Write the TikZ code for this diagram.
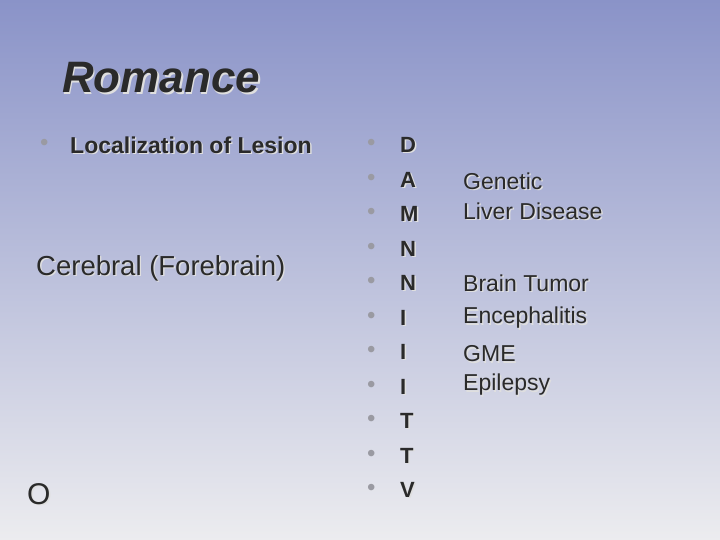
\documentclass[tikz,border=0pt]{standalone}
\usepackage{fontspec}
\setmainfont{Liberation Sans}
\definecolor{slidetop}{HTML}{8A93C8}
\definecolor{slidebot}{HTML}{ECECEF}
\definecolor{inktext}{HTML}{2A2A2A}
\definecolor{dotgrey}{HTML}{9A9AA2}
\newcommand{\shtext}[4]{%
  \node[shade txt,font={#3}] at ([shift={(1.4pt,-1.4pt)}]#1) {#4};
  \node[main txt,font={#3}] (#2) at (#1) {#4};}
\begin{document}
\begin{tikzpicture}[x=1pt,y=1pt,
  main txt/.style={anchor=west,inner sep=0pt,text=inktext},
  shade txt/.style={anchor=west,inner sep=0pt,text=white!75!gray},
  bullet/.style={anchor=west,inner sep=0pt,text=dotgrey,font=\fontsize{24}{26}\selectfont}]
\shade[top color=slidetop,bottom color=slidebot] (0,0) rectangle (720,-540);
\useasboundingbox (0,0) rectangle (720,-540);
% title
\shtext{62,-78}{title}{\fontsize{44}{48}\selectfont\bfseries\itshape}{Romance}
% left column
\node[bullet] (b0) at (40,-145) {•};
\shtext{70,-145}{loc}{\fontsize{23}{26}\selectfont\bfseries}{Localization of Lesion}
\shtext{36,-268}{cereb}{\fontsize{27.5}{30}\selectfont}{Cerebral (Forebrain)}
\shtext{27,-494}{oo}{\fontsize{30}{34}\selectfont}{O}
% letter column
\foreach \L [count=\i from 0] in {D,A,M,N,N,I,I,I,T,T,V} {
  \node[bullet] (d\i) at (367,-145-34.5*\i) {•};
  \shtext{400,-145-34.5*\i}{l\i}{\fontsize{22}{26}\selectfont\bfseries}{\L}
}
% right column
\shtext{463,-181}{gen}{\fontsize{23}{26}\selectfont}{Genetic}
\shtext{463,-211}{liver}{\fontsize{23}{26}\selectfont}{Liver Disease}
\shtext{463,-283}{tumor}{\fontsize{23}{26}\selectfont}{Brain Tumor}
\shtext{463,-318}{enceph}{\fontsize{23}{26}\selectfont}{Encephalitis}
\shtext{463,-354}{gme}{\fontsize{23}{26}\selectfont}{GME}
\shtext{463,-385}{epil}{\fontsize{23}{26}\selectfont}{Epilepsy}
\end{tikzpicture}
\end{document}
